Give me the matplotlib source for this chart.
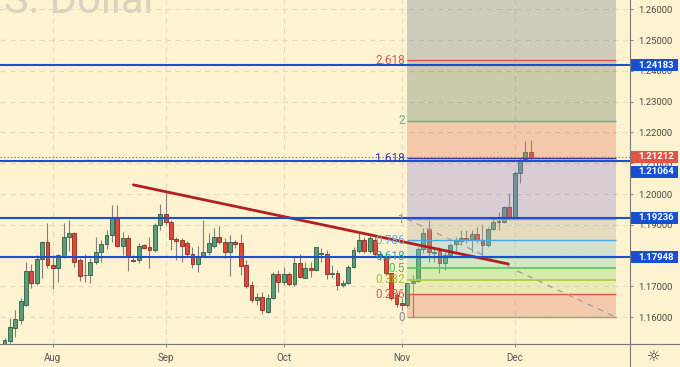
import matplotlib
matplotlib.use("Agg")
import matplotlib.pyplot as plt
import numpy as np
import pandas as pd
from matplotlib.lines import Line2D
from matplotlib.patches import Rectangle

plt.rcParams["font.family"] = ["Roboto", "DejaVu Sans"]
plt.rcParams["lines.scale_dashes"] = False

# daily EUR/USD bars, 2020-07-21 .. 2020-12-04
dates = pd.bdate_range("2020-07-21", "2020-12-04")
opens = [1.1505, 1.1524, 1.1566, 1.1591, 1.1640, 1.1750, 1.1710, 1.1789, 1.1846, 1.1770,
         1.1759, 1.1799, 1.1862, 1.1873, 1.1786, 1.1736, 1.1737, 1.1779, 1.1811, 1.1837,
         1.1867, 1.1927, 1.1833, 1.1859, 1.1787, 1.1785, 1.1834, 1.1827, 1.1819, 1.1900,
         1.1934, 1.1908, 1.1854, 1.1850, 1.1842, 1.1806, 1.1772, 1.1800, 1.1811, 1.1832,
         1.1862, 1.1846, 1.1813, 1.1845, 1.1840, 1.1770, 1.1705, 1.1655, 1.1666, 1.1618,
         1.1662, 1.1741, 1.1714, 1.1741, 1.1709, 1.1777, 1.1729, 1.1759, 1.1754, 1.1805,
         1.1807, 1.1740, 1.1745, 1.1704, 1.1711, 1.1764, 1.1816, 1.1851, 1.1814, 1.1851,
         1.1797, 1.1792, 1.1743, 1.1672, 1.1645, 1.1640, 1.1711, 1.1718, 1.1822, 1.1886,
         1.1810, 1.1815, 1.1775, 1.1801, 1.1838, 1.1848, 1.1859, 1.1851, 1.1870, 1.1848,
         1.1835, 1.1886, 1.1910, 1.1910, 1.1959, 1.1921, 1.2068, 1.2113, 1.2136]
highs = [1.1534, 1.1597, 1.1624, 1.1662, 1.1781, 1.1772, 1.1802, 1.1848, 1.1905, 1.1802,
         1.1805, 1.1905, 1.1916, 1.1878, 1.1794, 1.1804, 1.1792, 1.1862, 1.1851, 1.1883,
         1.1965, 1.1965, 1.1878, 1.1867, 1.1802, 1.1840, 1.1837, 1.1862, 1.1905, 1.1967,
         1.2008, 1.1916, 1.1862, 1.1858, 1.1848, 1.1829, 1.1831, 1.1916, 1.1873, 1.1889,
         1.1897, 1.1858, 1.1867, 1.1851, 1.1870, 1.1786, 1.1718, 1.1678, 1.1683, 1.1675,
         1.1746, 1.1754, 1.1764, 1.1746, 1.1797, 1.1804, 1.1781, 1.1781, 1.1829, 1.1826,
         1.1818, 1.1770, 1.1754, 1.1721, 1.1770, 1.1829, 1.1873, 1.1862, 1.1867, 1.1860,
         1.1815, 1.1797, 1.1745, 1.1683, 1.1662, 1.1716, 1.1737, 1.1829, 1.1889, 1.1916,
         1.1829, 1.1829, 1.1813, 1.1840, 1.1862, 1.1884, 1.1884, 1.1883, 1.1894, 1.1903,
         1.1892, 1.1925, 1.1943, 1.1961, 1.2003, 1.2076, 1.2116, 1.2173, 1.2176]
lows = [1.1495, 1.1516, 1.1537, 1.1577, 1.1638, 1.1694, 1.1705, 1.1727, 1.1759, 1.1692,
        1.1716, 1.1792, 1.1815, 1.1764, 1.1718, 1.1716, 1.1710, 1.1772, 1.1779, 1.1822,
        1.1846, 1.1829, 1.1802, 1.1750, 1.1781, 1.1775, 1.1822, 1.1759, 1.1813, 1.1883,
        1.1900, 1.1819, 1.1786, 1.1779, 1.1797, 1.1761, 1.1748, 1.1797, 1.1802, 1.1826,
        1.1838, 1.1792, 1.1734, 1.1824, 1.1737, 1.1694, 1.1649, 1.1640, 1.1610, 1.1613,
        1.1659, 1.1683, 1.1705, 1.1703, 1.1703, 1.1727, 1.1727, 1.1732, 1.1750, 1.1781,
        1.1724, 1.1727, 1.1689, 1.1697, 1.1707, 1.1759, 1.1808, 1.1808, 1.1810, 1.1799,
        1.1785, 1.1737, 1.1656, 1.1634, 1.1624, 1.1634, 1.1602, 1.1716, 1.1808, 1.1781,
        1.1781, 1.1743, 1.1754, 1.1797, 1.1816, 1.1835, 1.1840, 1.1813, 1.1840, 1.1797,
        1.1829, 1.1883, 1.1883, 1.1907, 1.1920, 1.1920, 1.2035, 1.2105, 1.2108]
closes = [1.1526, 1.1567, 1.1593, 1.1653, 1.1750, 1.1712, 1.1789, 1.1846, 1.1770, 1.1759,
          1.1802, 1.1862, 1.1873, 1.1781, 1.1735, 1.1738, 1.1779, 1.1811, 1.1838, 1.1867,
          1.1927, 1.1833, 1.1859, 1.1795, 1.1784, 1.1833, 1.1826, 1.1819, 1.1900, 1.1934,
          1.1908, 1.1853, 1.1849, 1.1833, 1.1806, 1.1772, 1.1800, 1.1811, 1.1842, 1.1862,
          1.1846, 1.1813, 1.1846, 1.1837, 1.1768, 1.1703, 1.1656, 1.1665, 1.1624, 1.1662,
          1.1741, 1.1714, 1.1741, 1.1709, 1.1777, 1.1730, 1.1759, 1.1755, 1.1827, 1.1808,
          1.1739, 1.1745, 1.1705, 1.1710, 1.1764, 1.1818, 1.1851, 1.1816, 1.1857, 1.1805,
          1.1806, 1.1743, 1.1662, 1.1643, 1.1639, 1.1710, 1.1718, 1.1822, 1.1873, 1.1812,
          1.1813, 1.1775, 1.1802, 1.1835, 1.1848, 1.1859, 1.1851, 1.1870, 1.1851, 1.1835,
          1.1886, 1.1910, 1.1913, 1.1959, 1.1921, 1.2068, 1.2111, 1.2136, 1.21212]

months = ["Aug", "Sep", "Oct", "Nov", "Dec"]
month_start = ["2020-08-03", "2020-09-01", "2020-10-01", "2020-11-02", "2020-12-01"]
price_ticks = [1.16, 1.17, 1.18, 1.19, 1.20, 1.21, 1.22, 1.23, 1.24, 1.25, 1.26]

# horizontal support / resistance levels and last price
levels = [1.24183, 1.21064, 1.19236, 1.17948]
last_price = 1.21212

# fibonacci retracement tool
fib_low, fib_high = 1.1600, 1.1919
fib_ratios = [0, 0.236, 0.382, 0.5, 0.618, 0.786, 1, 1.618, 2, 2.618]
fib_labels = ["0", "0.236", "0.382", "0.5", "0.618", "0.786", "1", "1.618", "2", "2.618"]
fib_start, fib_end = "2020-11-03", "2020-12-28"

# downward trend line (date, price)
trend = [("2020-08-24", 1.2030), ("2020-11-30", 1.1773)]

line_col = ["#9a9a9a", "#e0584c", "#aacd3a", "#57c957", "#25b596", "#4aa6e2",
            "#9a9a9a", "#3c3caa", "#45c08a", "#d9534f"]
text_col = ["#8c8c8c", "#e0584c", "#9cc62c", "#45c045", "#1eb39a", "#5aaee6",
            "#8c8c8c", "#3a3aa8", "#44c08a", "#d9534f"]
# zone above each level (translucent, drawn over the candles)
zone_col = ["#e47863", "#c8dc80", "#8edc72", "#80d4ab", "#86c2d0", "#b4b1a2",
            "#8f86d6", "#e47863", "#6c7e63", "#778396"]

BG = "#fef3d0"
fig = plt.figure(figsize=(6.8, 3.67), dpi=100, facecolor=BG)
W, H = 680, 367
ax = fig.add_axes([0, 23 / H, 630 / W, 344 / H], facecolor=BG)

idx = {d.strftime("%Y-%m-%d"): i for i, d in enumerate(dates)}
def pos(d):
    if d in idx:
        return idx[d]
    # beyond last bar: count business days forward
    return len(dates) - 1 + len(pd.bdate_range(dates[-1], d)) - 1

o, h, l, c = map(np.array, (opens, highs, lows, closes))
x = np.arange(len(o))
up = c >= o
bot = np.minimum(o, c)
hgt = np.maximum(np.abs(c - o), 0.00008)

ax.set_xlim(-0.84, 116.48)
ax.set_ylim(1.151331, 1.263019)

# grid
for p in price_ticks:
    ax.axhline(p, color="#e2dccb", lw=0.8, dashes=(4, 3), zorder=0)
mpos = [pos(d) for d in month_start]
for m in mpos:
    ax.axvline(m, color="#e2dccb", lw=0.8, dashes=(4, 3), zorder=0)

ax.vlines(x, l, h, color="#7f7f7f", lw=0.8, zorder=2)
ax.bar(x[up], hgt[up], bottom=bot[up], width=0.72, color="#5b9d7b",
       edgecolor="#2d5d47", lw=0.6, zorder=3)
ax.bar(x[~up], hgt[~up], bottom=bot[~up], width=0.72, color="#e0483a",
       edgecolor="#8a2a22", lw=0.6, zorder=3)

# fib tool
fx0, fx1 = pos(fib_start) - 0.1, pos(fib_end) - 0.1
rng = fib_high - fib_low
fprice = [fib_low + r * rng for r in fib_ratios]
tops = fprice[1:] + [1.27]
for i, (lo, hi) in enumerate(zip(fprice, tops)):
    ax.add_patch(Rectangle((fx0, lo), fx1 - fx0, hi - lo, facecolor=zone_col[i],
                           alpha=0.35, lw=0, zorder=4))
for i, p in enumerate(fprice):
    ax.hlines(p, fx0, fx1, color=line_col[i], lw=1.2 if i in (2, 3) else 1.0, zorder=5)
    ax.text(fx0 - 0.3, p, fib_labels[i], ha="right", va="center", color=text_col[i],
            fontsize=8.5, zorder=8)
ax.plot([fx0, fx1], [fib_high, fib_low], color="#9c9c9c", lw=0.9, dashes=(4, 4), zorder=5)

(t0, p0), (t1, p1) = trend
ax.plot([pos(t0), pos(t1) - 0.15], [p0, p1], color="#b21f1f", lw=2.0,
        solid_capstyle="round", zorder=6)

for v in levels:
    ax.axhline(v, color="#1a4fd0", lw=1.5, zorder=7)
ax.axhline(last_price, color="#e05545", lw=0.8, dashes=(1, 1.5), zorder=7)

# axes styling
for s in ax.spines.values():
    s.set_visible(False)
ax.yaxis.tick_right()
ax.set_yticks(price_ticks)
ax.set_yticklabels([f"{p:.5f}" for p in price_ticks])
ax.tick_params(axis="y", direction="out", length=2.2, width=0.7, color="#888888",
               pad=3.6, labelsize=6.8, labelcolor="#4a4a4a")
ax.set_xticks(mpos)
ax.set_xticklabels(months)
ax.tick_params(axis="x", direction="out", length=2.2, width=0.7, color="#888888",
               pad=4.5, labelsize=7, labelcolor="#555555")

# price labels on the axis
tr = ax.get_yaxis_transform()
bh = 12 / 3080
tags = [(1.24183, 1.24183, "#1750d2"), (1.21212, 1.21212, "#e05545"),
        (1.21064, 1.20727, "#1750d2"), (1.19236, 1.19236, "#1750d2"),
        (1.17948, 1.17948, "#1750d2")]
for val, yc, col in tags:
    ax.add_patch(Rectangle((1.0, yc - bh / 2), 48 / 630, bh, transform=tr,
                           facecolor=col, lw=0, clip_on=False, zorder=10))
    ax.text(638 / 630, yc, f"{val:.5f}", transform=tr, ha="left", va="center",
            color="white", fontsize=6.8, fontweight="bold", clip_on=False, zorder=11)

# panel separators
fig.add_artist(Line2D([630 / W, 630 / W], [0, 1], color="#7a7a7a", lw=0.8))
fig.add_artist(Line2D([0, 1], [23 / H, 23 / H], color="#7a7a7a", lw=0.8))

fig.text(-34 / W, 1 - 13.3 / H, "U.S. Dollar", fontsize=30, color="#d9d2bc",
         va="baseline", ha="left")
fig.text(654 / W, 10 / H, "\u263c", fontsize=11, color="#333333", ha="center",
         va="center", family="DejaVu Sans")

fig.savefig("out.png", dpi=100, facecolor=BG)
